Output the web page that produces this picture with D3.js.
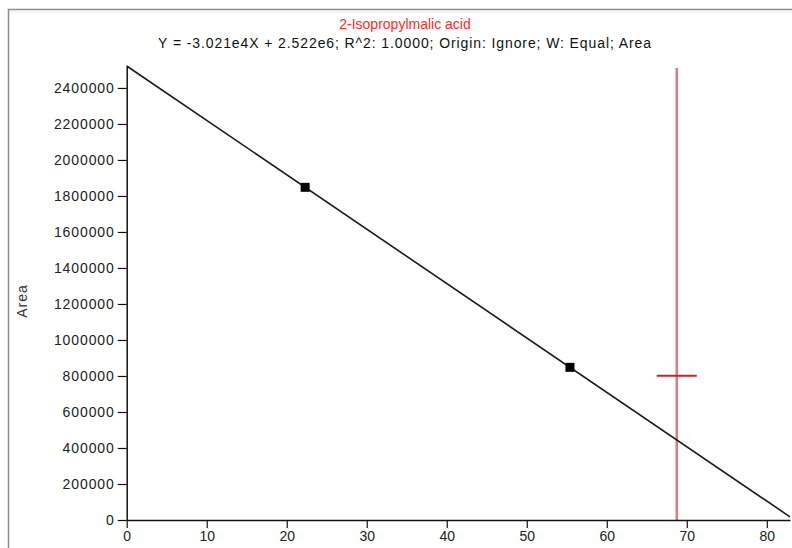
<!DOCTYPE html>
<html>
<head>
<meta charset="utf-8">
<script src="https://cdn.jsdelivr.net/npm/d3@7"></script>
<style>
  body { margin: 0; background: #fff; }
  svg { display: block; font-family: "Liberation Sans", Arial, sans-serif; }
</style>
</head>
<body>
<svg id="svg"></svg>
<script>
// calibration standards
var calX = [22.3, 55.4];
var calY = [1848000, 848000];

// fit: Y = slope*X + intercept
var fitSlope = -3.021e4;
var fitIntercept = 2.522e6;

// unknown sample marker
var sampleX = [68.75];
var sampleY = [802000];

var xTicks = [0, 10, 20, 30, 40, 50, 60, 70, 80];
var yTicks = [0, 200000, 400000, 600000, 800000, 1000000, 1200000, 1400000,
  1600000, 1800000, 2000000, 2200000, 2400000];

var titleText = '2-Isopropylmalic acid';
var eqText = 'Y = -3.021e4X + 2.522e6; R^2: 1.0000; Origin: Ignore; W: Equal; Area';
var yLabel = 'Area';

var CalChart = {

  width: 792,
  height: 548,

  left: 126.7,
  right: 790,
  top: 66,
  bottom: 520,

  svg: null,
  x: null,
  y: null,

  buildFrame: function() {
    this.svg.append('rect')
      .attr('x', 8.5).attr('y', 9.5)
      .attr('width', 900).attr('height', 700)
      .attr('fill', '#fff')
      .attr('stroke', '#8c8c8c')
      .attr('stroke-width', 1.5);
    this.svg.append('line')
      .attr('x1', 10).attr('x2', 792).attr('y1', 11.5).attr('y2', 11.5)
      .attr('stroke', '#eef0f4').attr('stroke-width', 2);

    this.svg.append('text')
      .attr('x', 405).attr('y', 29)
      .attr('text-anchor', 'middle')
      .attr('font-size', 14)
      .attr('fill', '#ff2a2a')
      .text(titleText);
    this.svg.append('text')
      .attr('x', 405).attr('y', 48)
      .attr('text-anchor', 'middle')
      .attr('font-size', 14)
      .attr('letter-spacing', 0.9)
      .attr('fill', '#111')
      .text(eqText);

    this.svg.append('text')
      .attr('transform', 'translate(27,301) rotate(-90)')
      .attr('text-anchor', 'middle')
      .attr('font-size', 14)
      .attr('letter-spacing', 1)
      .attr('fill', '#333')
      .text(yLabel);
  },

  buildAxes: function() {
    var x = this.x, y = this.y, g;

    // x minor / medium ticks
    g = this.svg.append('g').attr('transform', 'translate(0,' + this.bottom + ')');
    g.call(d3.axisBottom(x).tickValues(d3.range(1, 83)).tickSize(3).tickFormat(''));
    g.call(d3.axisBottom(x).tickValues(d3.range(5, 83, 10)).tickSize(6).tickFormat(''));
    g.call(d3.axisBottom(x).tickValues(xTicks).tickSize(8).tickPadding(3).tickSizeOuter(0));
    g.selectAll('.domain').attr('stroke', '#111').attr('stroke-width', 1.5);
    g.selectAll('line').attr('stroke', '#111').attr('stroke-width', 1.2);
    g.selectAll('text').attr('font-size', 14).attr('fill', '#222')
      .attr('font-family', '"Liberation Sans", Arial, sans-serif');

    // y minor / medium ticks
    g = this.svg.append('g').attr('transform', 'translate(' + this.left + ',0)');
    g.call(d3.axisLeft(y).tickValues(d3.range(50000, 2522000, 100000)).tickSize(3).tickFormat(''));
    g.call(d3.axisLeft(y).tickValues(d3.range(100000, 2522000, 200000)).tickSize(5).tickFormat(''));
    g.call(d3.axisLeft(y).tickValues(yTicks).tickSize(9).tickPadding(3).tickSizeOuter(0)
      .tickFormat(d3.format('d')));
    g.selectAll('.domain').attr('stroke', '#111').attr('stroke-width', 1.5);
    g.selectAll('line').attr('stroke', '#111').attr('stroke-width', 1.2);
    g.selectAll('text').attr('font-size', 14).attr('fill', '#222')
      .attr('letter-spacing', 0.9)
      .attr('font-family', '"Liberation Sans", Arial, sans-serif');
  },

  buildFit: function() {
    var x = this.x, y = this.y, dom = x.domain();
    var ends = [dom[0], dom[1]].map(function(v) { return [v, fitSlope * v + fitIntercept]; });
    this.svg.append('path')
      .attr('d', d3.line().x(function(d) { return x(d[0]); }).y(function(d) { return y(d[1]); })(ends))
      .attr('fill', 'none')
      .attr('stroke', '#1a1a1a')
      .attr('stroke-width', 1.6);

    this.svg.selectAll('rect.std')
      .data(calX)
      .enter().append('rect')
      .attr('class', 'std')
      .attr('x', function(d) { return x(d) - 4.5; })
      .attr('y', function(d, i) { return y(calY[i]) - 4.5; })
      .attr('width', 9).attr('height', 9)
      .attr('fill', '#000');
  },

  buildSample: function() {
    var x = this.x, y = this.y, yd = y.domain();
    var g = this.svg.append('g').attr('class', 'sample');
    g.selectAll('line.vert')
      .data(sampleX)
      .enter().append('line')
      .attr('class', 'vert')
      .attr('x1', function(d) { return x(d); })
      .attr('x2', function(d) { return x(d); })
      .attr('y1', y(yd[1]) + 2)
      .attr('y2', y(0))
      .attr('stroke', '#c24a4e')
      .attr('stroke-opacity', 0.7)
      .attr('stroke-width', 2.6);
    g.selectAll('line.hor')
      .data(sampleX)
      .enter().append('line')
      .attr('class', 'hor')
      .attr('x1', function(d) { return x(d - 2.5); })
      .attr('x2', function(d) { return x(d + 2.5); })
      .attr('y1', function(d, i) { return y(sampleY[i]); })
      .attr('y2', function(d, i) { return y(sampleY[i]); })
      .attr('stroke', '#c0262c')
      .attr('stroke-width', 2);
  },

  init: function() {
    this.svg = d3.select('#svg')
      .attr('width', this.width)
      .attr('height', this.height);
    this.x = d3.scaleLinear().domain([0, 82.9]).range([this.left, this.right]);
    this.y = d3.scaleLinear().domain([0, 2522000]).range([this.bottom, this.top]);

    this.buildFrame();
    this.buildSample();
    this.buildFit();
    this.buildAxes();
  }
};

CalChart.init();
</script>
</body>
</html>
